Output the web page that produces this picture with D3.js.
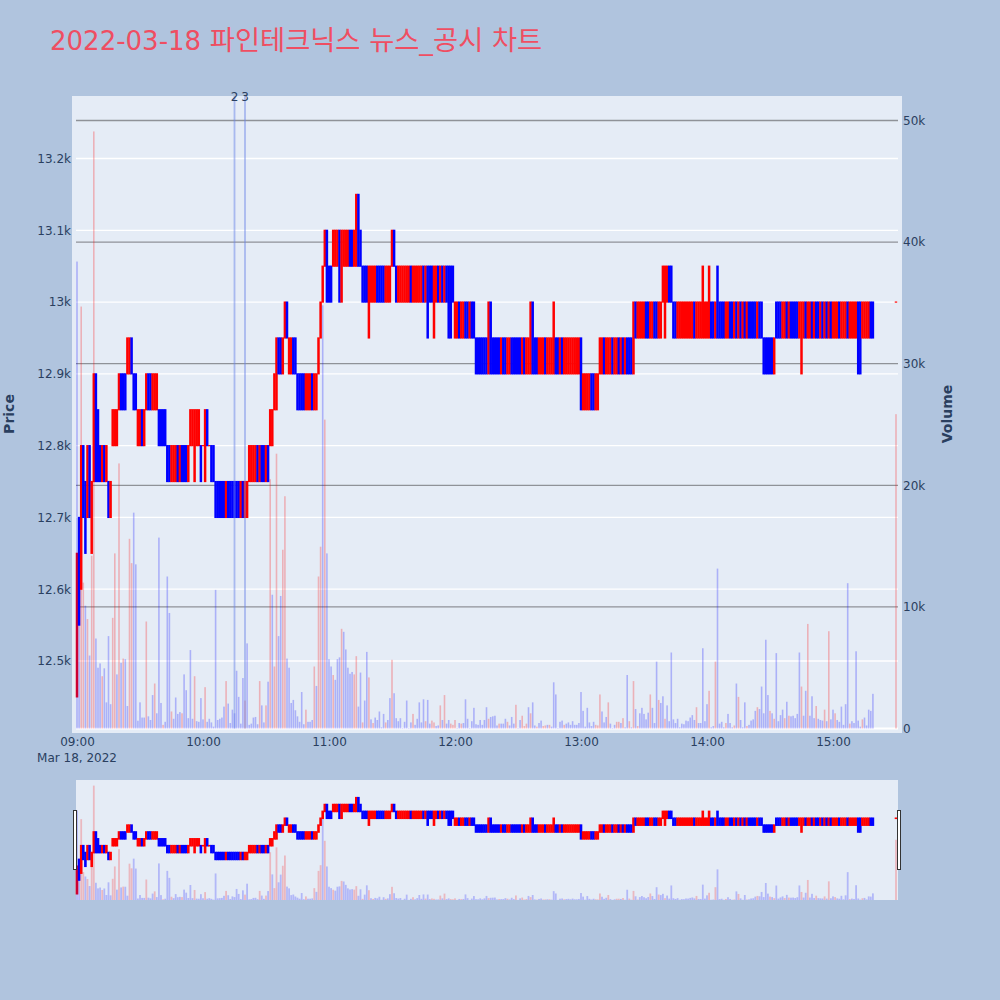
<!DOCTYPE html>
<html>
<head>
<meta charset="utf-8">
<script src="https://cdn.jsdelivr.net/npm/d3@7"></script>
<style>
  html, body { margin: 0; padding: 0; background: #B0C4DE; }
  text { font-family: "DejaVu Sans", "Noto Sans CJK KR", sans-serif; }
</style>
</head>
<body>
<script>
const titleDate = "2022-03-18"
const titleText = " 파인테크닉스 뉴스_공시 차트"
const dateLabel = "Mar 18, 2022"

// minutes after 09:00
const timeTicks = [0, 60, 120, 180, 240, 300, 360]
const timeLabels = ["09:00", "10:00", "11:00", "12:00", "13:00", "14:00", "15:00"]
const priceTicks = [12500, 12600, 12700, 12800, 12900, 13000, 13100, 13200]
const priceLabels = ["12.5k", "12.6k", "12.7k", "12.8k", "12.9k", "13k", "13.1k", "13.2k"]
const volumeTicks = [0, 10000, 20000, 30000, 40000, 50000]
const volumeLabels = ["0", "10k", "20k", "30k", "40k", "50k"]

// news markers
const newsMinutes = [75, 80]
const newsLabels = ["2", "3"]

// one candle a minute up to 15:19, then the closing auction
const minutes = d3.range(380).concat([390])

const opens = [
  12450,12700,12600,12800,12750,12700,12800,12650,12750,12900,
  12850,12800,12750,12800,12750,12750,12700,12800,12800,12800,
  12850,12900,12900,12900,12900,12900,12950,12900,12900,12800,
  12800,12850,12800,12850,12900,12900,12850,12850,12850,12850,
  12850,12850,12850,12800,12800,12750,12750,12750,12800,12750,
  12800,12800,12800,12750,12800,12800,12750,12800,12800,12800,
  12800,12750,12850,12800,12800,12800,12750,12750,12750,12750,
  12750,12700,12750,12750,12750,12750,12750,12750,12700,12750,
  12700,12700,12750,12750,12750,12750,12800,12750,12800,12800,
  12750,12800,12800,12800,12850,12850,12950,12950,12900,12950,
  13000,12900,12900,12950,12950,12900,12900,12900,12900,12850,
  12850,12850,12900,12850,12850,12900,12950,13000,13050,13100,
  13050,13050,13050,13050,13050,13100,13000,13050,13050,13050,
  13100,13100,13050,13050,13150,13100,13050,13050,13050,12950,
  13000,13000,13000,13050,13050,13050,13050,13000,13000,13000,
  13050,13100,13050,13000,13000,13000,13000,13000,13000,13050,
  13000,13000,13000,13000,13000,13050,13000,13050,13050,13050,
  12950,13000,13050,13000,13050,13000,13050,13050,13050,13050,
  12950,12950,13000,12950,12950,13000,13000,12950,13000,13000,
  12950,12950,12950,12950,12950,12950,12900,13000,12950,12950,
  12950,12950,12900,12950,12950,12900,12900,12950,12950,12950,
  12950,12950,12900,12950,12900,12900,12900,13000,12950,12950,
  12900,12900,12900,12950,12900,12900,12900,12900,12950,12950,
  12900,12950,12900,12900,12900,12900,12900,12900,12900,12900,
  12950,12850,12850,12850,12850,12900,12900,12850,12850,12900,
  12900,12950,12900,12900,12900,12950,12900,12900,12950,12900,
  12950,12900,12950,12950,12950,12900,13000,12950,12950,12950,
  12950,13000,13000,12950,12950,13000,13000,12950,12950,13000,
  12950,13000,13050,13050,13000,13000,12950,12950,12950,12950,
  12950,12950,12950,12950,13000,12950,12950,12950,12950,12950,
  12950,12950,13000,13000,12950,13050,13000,13000,13000,12950,
  12950,13000,13000,12950,13000,12950,13000,12950,13000,12950,
  13000,13000,13000,13000,12950,13000,13000,12950,12950,12950,
  12950,12950,12900,13000,13000,13000,12950,12950,13000,12950,
  13000,13000,13000,13000,12950,12900,12950,13000,12950,12950,
  13000,12950,13000,13000,12950,13000,12950,13000,12950,13000,
  12950,12950,12950,13000,12950,12950,12950,13000,12950,12950,
  12950,12950,13000,13000,12950,12950,12950,12950,13000,13000,
  13000
]

const closes = [
  12650,12550,12800,12700,12650,12800,12700,12750,12900,12750,
  12750,12750,12800,12750,12800,12700,12750,12850,12850,12850,
  12900,12850,12850,12850,12950,12950,12900,12850,12850,12850,
  12850,12800,12850,12900,12850,12850,12900,12900,12900,12800,
  12800,12800,12800,12750,12750,12800,12800,12800,12750,12800,
  12750,12750,12750,12800,12850,12850,12850,12850,12850,12750,
  12800,12850,12800,12800,12750,12750,12700,12700,12700,12700,
  12700,12750,12700,12700,12700,12700,12700,12700,12750,12700,
  12750,12750,12800,12800,12800,12800,12750,12800,12750,12750,
  12800,12750,12850,12850,12900,12950,12900,12900,12950,13000,
  12950,12950,12950,12900,12900,12850,12850,12850,12850,12900,
  12900,12900,12850,12900,12900,12950,13000,13050,13100,13000,
  13000,13000,13100,13100,13100,13000,13100,13100,13100,13100,
  13050,13050,13100,13150,13050,13050,13000,13000,13000,13050,
  13050,13050,13050,13000,13000,13000,13000,13050,13050,13050,
  13100,13050,13000,13050,13050,13050,13050,13050,13050,13000,
  13050,13050,13050,13050,13050,13000,13050,12950,13000,13000,
  13050,13050,13000,13050,13000,13050,13000,12950,12950,13000,
  13000,13000,12950,13000,13000,12950,12950,13000,12950,12950,
  12900,12900,12900,12900,12900,12900,13000,12900,12900,12900,
  12900,12900,12950,12900,12900,12950,12950,12900,12900,12900,
  12900,12900,12950,12900,12950,12950,13000,12900,12900,12900,
  12950,12950,12950,12900,12950,12950,12950,13000,12900,12900,
  12950,12900,12950,12950,12950,12950,12950,12950,12950,12950,
  12850,12900,12900,12900,12900,12850,12850,12900,12900,12950,
  12950,12900,12950,12950,12950,12900,12950,12950,12900,12950,
  12900,12950,12900,12900,12900,13000,12950,13000,13000,13000,
  13000,12950,12950,13000,13000,12950,12950,13000,13000,13050,
  13050,13050,13000,13000,12950,12950,13000,13000,13000,13000,
  13000,13000,13000,13000,12950,13000,13000,13000,13050,13000,
  13000,13050,12950,12950,13000,12950,12950,12950,12950,13000,
  13000,12950,12950,13000,12950,13000,12950,13000,12950,13000,
  12950,12950,12950,12950,13000,12950,12950,12900,12900,12900,
  12900,12900,12950,12950,12950,12950,13000,13000,12950,13000,
  12950,12950,12950,12950,13000,13000,13000,12950,13000,13000,
  12950,13000,12950,12950,13000,12950,13000,12950,13000,12950,
  13000,13000,13000,12950,13000,13000,13000,12950,13000,13000,
  13000,13000,12900,12900,13000,13000,13000,13000,12950,12950,
  13000
]

const volumes = [
  38400,13000,34700,12000,10100,9000,6000,14200,49100,7400,
  5000,5350,4300,4950,2150,7600,2000,9100,14400,4450,
  21800,5400,5750,5700,1850,15600,13600,17750,13500,640,
  2150,900,900,8800,1000,700,2750,3700,1250,15700,
  2100,300,550,12500,9500,1400,800,2550,1200,1350,
  1250,4450,3150,850,6450,800,4300,600,550,2500,
  750,3400,550,800,500,150,11400,700,800,900,
  1800,3900,2050,450,1550,1250,4750,2600,400,4150,
  2300,7000,300,400,900,950,350,3900,1900,500,
  1900,3850,20500,11000,5100,22600,7600,10900,14700,19100,
  5750,5000,2100,2350,1500,1000,550,3000,350,1550,
  550,550,700,5100,3500,12500,14950,34800,25400,14400,
  5700,5100,4400,4000,5700,5850,8200,7950,6500,5000,
  4500,4650,4450,5950,1800,4600,500,2300,6300,4200,
  750,450,900,700,1400,100,1200,500,700,2500,
  5650,2900,850,600,850,50,550,2300,50,500,
  1200,300,800,2150,500,2400,600,2350,400,650,
  500,200,250,1900,700,2750,400,700,400,300,
  700,50,450,400,450,2400,800,50,600,1700,
  350,300,700,300,700,1750,800,950,1000,1050,
  250,400,400,400,800,550,250,950,400,1950,
  50,700,1050,200,400,1750,1250,2150,250,150,
  450,650,200,250,300,300,150,3800,2800,50,
  550,650,300,400,500,300,600,300,300,450,
  3000,1450,150,1700,500,200,550,300,250,2800,
  1400,500,950,2150,400,50,300,550,550,450,
  850,100,4400,600,100,3900,1600,200,1250,1700,
  1200,750,1300,2800,1700,450,5500,2350,2100,2650,
  800,1900,600,6250,750,450,800,100,400,350,
  650,600,900,1100,700,1750,450,450,6600,600,
  2000,3100,100,200,5500,13150,400,550,100,450,
  1200,450,100,250,3700,2600,700,100,2150,200,
  300,650,750,1450,1750,1600,3450,1250,7300,2750,
  1450,1250,800,6200,600,1100,1550,850,2200,1050,
  1000,1050,850,1200,6250,3450,1050,3100,8600,1050,
  2650,850,1850,800,700,650,1550,600,8000,750,
  1550,1250,700,550,1800,300,2000,11950,400,600,
  450,6350,650,150,750,900,250,1550,1450,2850,
  25850
]

// minutes whose volume bar is red, the rest are blue
const redVolumeMinutes = [
  2,3,5,7,8,12,17,18,20,22,25,26,33,37,41,45,50,56,61,71,80,87,90,92,94,95,98,99,
  109,113,115,116,118,122,126,132,133,136,139,141,147,150,160,166,169,170,173,175,
  178,179,180,183,196,201,205,209,212,213,214,216,219,222,223,225,232,247,248,249,
  253,257,258,260,263,265,267,273,277,280,295,301,304,309,313,315,319,324,330,332,
  337,339,345,348,352,356,358,361,368,374,390
]

const candles = minutes.map((m, i) => ({
  minute: m,
  open: opens[i],
  close: closes[i],
  volume: volumes[i],
  redVolume: redVolumeMinutes.includes(m)
}))

const dimensions = { width: 1000, height: 1000 }

const wrapper = d3.select("body")
  .append("svg")
    .attr("width", dimensions.width)
    .attr("height", dimensions.height)
    .style("display", "block")

// panel backgrounds
wrapper.append("rect")
  .attr("x", 72).attr("y", 96).attr("width", 830).attr("height", 637)
  .attr("fill", "#E5ECF6")
wrapper.append("rect")
  .attr("x", 76).attr("y", 780).attr("width", 822).attr("height", 120)
  .attr("fill", "#E5ECF6")

//scales
const xScale = d3.scaleLinear().domain([0, 390]).range([77, 896])
const yScale = d3.scaleLinear().domain([12500, 13200]).range([661, 158.5])
const volScale = d3.scaleLinear().domain([0, 50000]).range([728.5, 120.5])
const miniPrice = d3.scaleLinear().domain([12450, 13150]).range([893.7, 797.7])
const miniVol = d3.scaleLinear().domain([0, 50000]).range([900, 783.5])

const BLUE = "#0000FF", RED = "#FF0000"
const candleColor = d => d.close < d.open ? BLUE : RED
const volColor = d => d.redVolume ? RED : BLUE

// grids
wrapper.append("g").selectAll("line")
  .data(priceTicks)
  .join("line")
  .attr("x1", 76).attr("x2", 898)
  .attr("y1", d => yScale(d)).attr("y2", d => yScale(d))
  .attr("stroke", "#fff").attr("stroke-width", 1.3)

wrapper.append("line")
  .attr("x1", 76).attr("x2", 898)
  .attr("y1", volScale(0)).attr("y2", volScale(0))
  .attr("stroke", "#fff").attr("stroke-width", 2)

wrapper.append("g").selectAll("line")
  .data(volumeTicks.slice(1))
  .join("line")
  .attr("x1", 76).attr("x2", 898)
  .attr("y1", d => volScale(d)).attr("y2", d => volScale(d))
  .attr("stroke", "#8f9298").attr("stroke-width", 1.3)

// pad thickens the body the way a candle outline does
function drawCandles(sel, y, w, pad) {
  sel.selectAll("rect")
    .data(candles)
    .join("rect")
    .attr("x", d => xScale(d.minute) - w / 2)
    .attr("width", w)
    .attr("y", d => y(Math.max(d.open, d.close)) - pad / 2)
    .attr("height", d => Math.abs(y(d.open) - y(d.close)) + pad)
    .attr("fill", candleColor)
}

function drawVolume(sel, y, w, opacity) {
  sel.selectAll("rect")
    .data(candles)
    .join("rect")
    .attr("x", d => xScale(d.minute) - w / 2)
    .attr("width", w)
    .attr("y", d => y(d.volume))
    .attr("height", d => y(0) - y(d.volume))
    .attr("fill", volColor)
    .attr("opacity", opacity)
}

// main panel
wrapper.append("g").call(drawCandles, yScale, 2.5, 1.2)
wrapper.append("g").call(drawVolume, volScale, 1.6, 0.25)

// news lines
wrapper.append("g").selectAll("line")
  .data(newsMinutes)
  .join("line")
  .attr("x1", d => xScale(d)).attr("x2", d => xScale(d))
  .attr("y1", 96).attr("y2", 728.5)
  .attr("stroke", "#6c86e8").attr("stroke-opacity", 0.5).attr("stroke-width", 1.8)

wrapper.append("g").selectAll("text")
  .data(newsMinutes)
  .join("text")
  .attr("x", d => xScale(d))
  .attr("y", 101)
  .attr("text-anchor", "middle")
  .attr("font-size", 12)
  .attr("fill", "#2a3f5f")
  .text((d, i) => newsLabels[i])

// range slider
wrapper.append("g").call(drawCandles, miniPrice, 2.6, 1.6)
wrapper.append("g").call(drawVolume, miniVol, 1.8, 0.22)

wrapper.append("g").selectAll("rect")
  .data([73.5, 897.5])
  .join("rect")
  .attr("x", d => d).attr("y", 810.5)
  .attr("width", 3).attr("height", 59)
  .attr("fill", "#fff").attr("stroke", "#333").attr("stroke-width", 1)

// axes
const styleAxis = g => {
  g.select(".domain").remove()
  g.selectAll("line").remove()
  g.selectAll("text")
    .attr("fill", "#2a3f5f")
    .attr("font-size", 12)
}

wrapper.append("g")
  .attr("transform", "translate(71,0)")
  .call(d3.axisLeft(yScale).tickValues(priceTicks).tickSize(0).tickPadding(0)
    .tickFormat((d, i) => priceLabels[i]))
  .call(styleAxis)

wrapper.append("g")
  .attr("transform", "translate(903,0)")
  .call(d3.axisRight(volScale).tickValues(volumeTicks).tickSize(0).tickPadding(0)
    .tickFormat((d, i) => volumeLabels[i]))
  .call(styleAxis)

wrapper.append("g")
  .attr("transform", "translate(0,733)")
  .call(d3.axisBottom(xScale).tickValues(timeTicks).tickSize(0).tickPadding(4)
    .tickFormat((d, i) => timeLabels[i]))
  .call(styleAxis)

wrapper.append("text")
  .attr("x", 77).attr("y", 762)
  .attr("text-anchor", "middle")
  .attr("font-size", 12)
  .attr("fill", "#2a3f5f")
  .text(dateLabel)

// titles
const title = wrapper.append("text")
  .attr("x", 50).attr("y", 49.5)
  .attr("font-size", 26)
  .attr("fill", "#EF4E62")
  .attr("xml:space", "preserve")
  .style("white-space", "pre")
title.append("tspan").text(titleDate)
title.append("tspan").attr("font-size", 27.3).text(titleText)

wrapper.append("text")
  .attr("transform", "translate(14,414) rotate(-90)")
  .attr("text-anchor", "middle")
  .attr("font-size", 14)
  .attr("font-weight", "bold")
  .attr("fill", "#2a3f5f")
  .text("Price")

wrapper.append("text")
  .attr("transform", "translate(952,414) rotate(-90)")
  .attr("text-anchor", "middle")
  .attr("font-size", 14)
  .attr("font-weight", "bold")
  .attr("fill", "#2a3f5f")
  .text("Volume")
</script>
</body>
</html>
